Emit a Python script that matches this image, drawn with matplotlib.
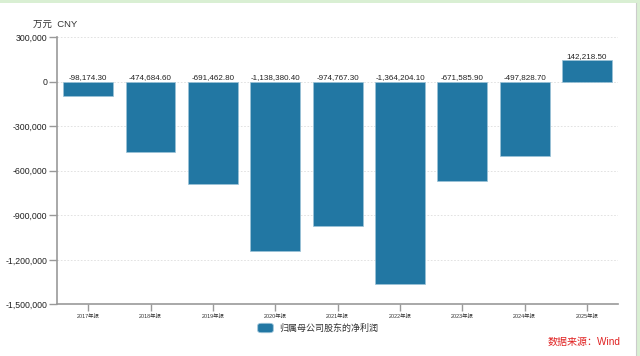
import matplotlib
matplotlib.use("Agg")
import matplotlib.pyplot as plt
from matplotlib.patches import FancyBboxPatch, Rectangle
from matplotlib.ticker import FuncFormatter

plt.rcParams["font.family"] = ["Liberation Sans", "Noto Sans CJK SC", "DejaVu Sans"]

years = ["2017年报", "2018年报", "2019年报", "2020年报", "2021年报",
         "2022年报", "2023年报", "2024年报", "2025年报"]
net_profit = [-98174.30, -474684.60, -691462.80, -1138380.40, -974767.30,
              -1364204.10, -671585.90, -497828.70, 142218.50]
y_ticks = [300000, 0, -300000, -600000, -900000, -1200000, -1500000]

bar_color = "#2277a3"
axis_color = "#999999"

fig = plt.figure(figsize=(6.4, 3.56), dpi=100)
ax = fig.add_axes([0.089, 0.145, 0.877, 0.751])

x = range(len(years))
ax.bar(x, net_profit, width=0.8, color=bar_color, edgecolor="#9cc3d8",
       linewidth=0.5, zorder=3)

# value labels sit on top of the bar, or on the zero line for losses
for i, v in enumerate(net_profit):
    ax.text(i, max(v, 0) + 5000, f"{v:,.2f}", ha="center", va="bottom",
            fontsize=5.8, color="#222222", zorder=4)

ax.set_xlim(-0.5, len(years) - 0.5)
ax.set_ylim(-1500000, 300000)
ax.set_yticks(y_ticks)
ax.yaxis.set_major_formatter(FuncFormatter(lambda v, _: f"{int(v):,}"))
ax.set_xticks(list(x))
ax.set_xticklabels(years, fontsize=3.9, color="#333333")

ax.grid(axis="y", color="#dddddd", linestyle=(0, (2, 2)), linewidth=0.6, zorder=0)
for side in ("top", "right"):
    ax.spines[side].set_visible(False)
for side in ("left", "bottom"):
    ax.spines[side].set_color(axis_color)
    ax.spines[side].set_linewidth(1.2)
ax.tick_params(axis="y", labelsize=6.3, colors="#222222", length=6,
               width=1, color=axis_color, pad=1)
ax.tick_params(axis="x", length=5, width=1, color=axis_color, pad=2)

fig.text(55 / 640, 1 - 24 / 356, "万元  CNY", ha="center", va="center",
         fontsize=6.8, color="#333333")

# legend
fig.patches.append(FancyBboxPatch((259 / 640, 1 - 332 / 356), 13 / 640, 8 / 356,
                                  boxstyle="round,pad=0.002,rounding_size=0.006",
                                  transform=fig.transFigure, facecolor=bar_color,
                                  edgecolor="#9cc3d8", linewidth=0.6))
fig.text(279 / 640, 1 - 328 / 356, "归属母公司股东的净利润", ha="left",
         va="center", fontsize=6.5, color="#333333",
         family=["Noto Sans CJK SC", "DejaVu Sans"])

fig.text(620 / 640, 1 - 342 / 356, "数据来源：Wind", ha="right", va="center",
         fontsize=7.2, color="#e02020")

# frame
fig.patches.append(Rectangle((0, 1 - 3 / 356), 1, 3 / 356, transform=fig.transFigure,
                             facecolor="#d9efd3", edgecolor="none"))
fig.patches.append(Rectangle((636 / 640, 0), 4 / 640, 1, transform=fig.transFigure,
                             facecolor="#d9efd3", edgecolor="none"))
fig.lines.append(plt.Line2D([635.5 / 640, 635.5 / 640], [0, 1 - 3 / 356],
                            transform=fig.transFigure, color="#cccccc", linewidth=0.8))

fig.savefig("out.png", dpi=100)
